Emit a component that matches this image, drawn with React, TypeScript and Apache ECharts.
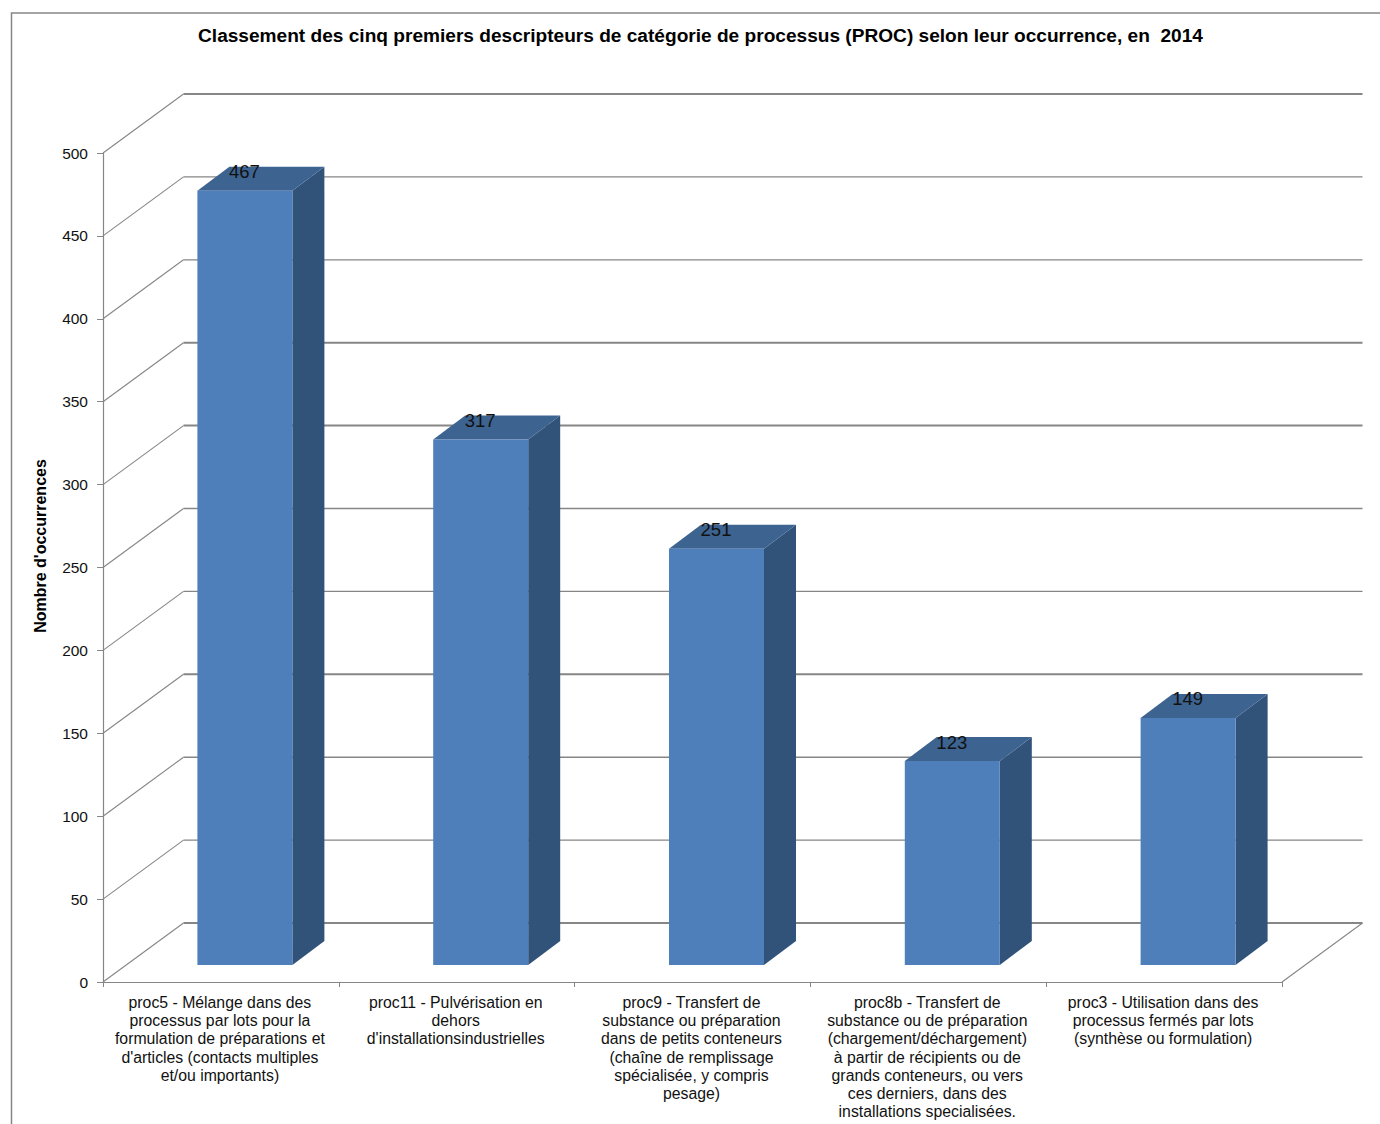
import React, { useEffect, useRef } from "react";
import * as echarts from "echarts";

const titleText =
  "Classement des cinq premiers descripteurs de catégorie de processus (PROC) selon leur occurrence, en  2014";
const valueAxisName = "Nombre d'occurrences";
const categories = [
  "proc5 - Mélange dans des\nprocessus par lots pour la\nformulation de préparations et\nd'articles (contacts multiples\net/ou importants)",
  "proc11 - Pulvérisation en\ndehors\nd'installationsindustrielles",
  "proc9 - Transfert de\nsubstance ou préparation\ndans de petits conteneurs\n(chaîne de remplissage\nspécialisée, y compris\npesage)",
  "proc8b - Transfert de\nsubstance ou de préparation\n(chargement/déchargement)\nà partir de récipients ou de\ngrands conteneurs, ou vers\nces derniers, dans des\ninstallations specialisées.",
  "proc3 - Utilisation dans des\nprocessus fermés par lots\n(synthèse ou formulation)",
];
const occurrences = [467, 317, 251, 123, 149];
const gridValues = [0, 50, 100, 150, 200, 250, 300, 350, 400, 450, 500];
const heavyGridValues = [0, 150, 300, 350, 500];
const mediumGridValues = [100, 250];

const GREY = "#868686";
const FONT = '"Liberation Sans", Arial, sans-serif';

// Oblique projection of the 3D box: walls recede by this vector.
const WALL_DX = 80.5;
const WALL_DY = -59;
// Bars stand on the floor, shifted from the front edge of the category.
const BAR_SHIFT_X = -23.5;
const BAR_SHIFT_Y = -17;
const BAR_WIDTH = 95;
const BAR_DX = 32;
const BAR_DY = -24;

function gridWidth(value: number) {
  if (heavyGridValues.includes(value)) return 2;
  if (mediumGridValues.includes(value)) return 1.6;
  return 1.25;
}

function renderWalls(params: any, api: any) {
  const value = api.value(1);
  const [, y] = api.coord([0, value]);
  const cs = params.coordSys;
  const x0 = cs.x;
  const x1 = cs.x + cs.width;
  const common = { stroke: GREY, fill: "none" };
  const children: any[] = [
    {
      type: "line",
      shape: { x1: x0, y1: y, x2: x0 + WALL_DX, y2: y + WALL_DY },
      style: { ...common, lineWidth: 1.1 },
    },
    {
      type: "line",
      shape: { x1: x0 + WALL_DX, y1: y + WALL_DY, x2: x1 + WALL_DX, y2: y + WALL_DY },
      style: { ...common, lineWidth: gridWidth(value) },
    },
  ];
  if (value === 0) {
    children.push({
      type: "line",
      shape: { x1, y1: y, x2: x1 + WALL_DX, y2: y + WALL_DY },
      style: { ...common, lineWidth: 1.1 },
    });
  }
  return { type: "group", children };
}

function renderBar(_params: any, api: any) {
  const cat = api.value(0);
  const val = api.value(1);
  const [cx, top] = api.coord([cat, val]);
  const [, base] = api.coord([cat, 0]);
  const l = cx + BAR_SHIFT_X;
  const r = l + BAR_WIDTH;
  const t = top + BAR_SHIFT_Y;
  const b = base + BAR_SHIFT_Y;
  return {
    type: "group",
    children: [
      {
        type: "polygon",
        shape: { points: [[r, t], [r + BAR_DX, t + BAR_DY], [r + BAR_DX, b + BAR_DY], [r, b]] },
        style: { fill: "#315379" },
      },
      {
        type: "polygon",
        shape: { points: [[l, t], [l + BAR_DX, t + BAR_DY], [r + BAR_DX, t + BAR_DY], [r, t]] },
        style: { fill: "#3D6390" },
      },
      {
        type: "rect",
        shape: { x: l, y: t, width: BAR_WIDTH, height: b - t },
        style: { fill: "#4F7FBB" },
      },
      {
        type: "text",
        style: {
          x: l + BAR_WIDTH / 2 - 0.5,
          y: t - 19,
          text: String(val),
          fill: "#111111",
          font: `18.5px ${FONT}`,
          align: "center",
          verticalAlign: "middle",
        },
      },
    ],
  };
}

export default function App() {
  const ref = useRef<HTMLDivElement>(null);

  useEffect(() => {
    const chart = echarts.init(ref.current!, undefined, { renderer: "svg" });
    chart.setOption({
      animation: false,
      backgroundColor: "#ffffff",
      title: {
        text: titleText,
        left: 695.5,
        top: 20.5,
        textAlign: "center",
        textStyle: { fontFamily: FONT, fontSize: 19.1, fontWeight: "bold", color: "#000000" },
      },
      graphic: [
        {
          type: "polyline",
          silent: true,
          shape: { points: [[11.5, 1124], [11.5, 13], [1380, 13]] },
          style: { stroke: GREY, lineWidth: 1.5, fill: "none" },
        },
      ],
      grid: { left: 103, top: 153, width: 1179, height: 829 },
      xAxis: {
        type: "category",
        data: categories,
        axisLine: { lineStyle: { color: GREY, width: 1.2 } },
        axisTick: { show: true, length: 5, alignWithLabel: false, lineStyle: { color: GREY } },
        axisLabel: {
          interval: 0,
          margin: 11,
          fontFamily: FONT,
          fontSize: 15.8,
          lineHeight: 18.3,
          color: "#111111",
          align: "center",
          padding: [0, 2, 0, 0],
        },
      },
      yAxis: {
        type: "value",
        min: 0,
        max: 500,
        interval: 50,
        name: valueAxisName,
        nameLocation: "middle",
        nameGap: 55,
        nameTextStyle: {
          fontFamily: FONT,
          fontSize: 16,
          fontWeight: "bold",
          color: "#000000",
          padding: [0, 0, 0, 43],
        },
        axisLine: { show: true, lineStyle: { color: GREY, width: 1.2 } },
        axisTick: { show: true, length: 6, lineStyle: { color: GREY } },
        axisLabel: { margin: 15, fontFamily: FONT, fontSize: 15.5, color: "#111111", padding: [1, 0, 0, 0] },
        splitLine: { show: false },
      },
      series: [
        {
          type: "custom",
          name: "parois",
          silent: true,
          z: 1,
          renderItem: renderWalls,
          encode: { x: 0, y: 1 },
          data: gridValues.map((v) => [0, v]),
        },
        {
          type: "custom",
          name: "occurrences",
          z: 2,
          renderItem: renderBar,
          encode: { x: 0, y: 1 },
          data: occurrences.map((v, i) => [i, v]),
        },
      ],
    });
    return () => chart.dispose();
  }, []);

  return (
    <div
      ref={ref}
      style={{ position: "fixed", left: 0, top: 0, width: 1380, height: 1124 }}
    />
  );
}
